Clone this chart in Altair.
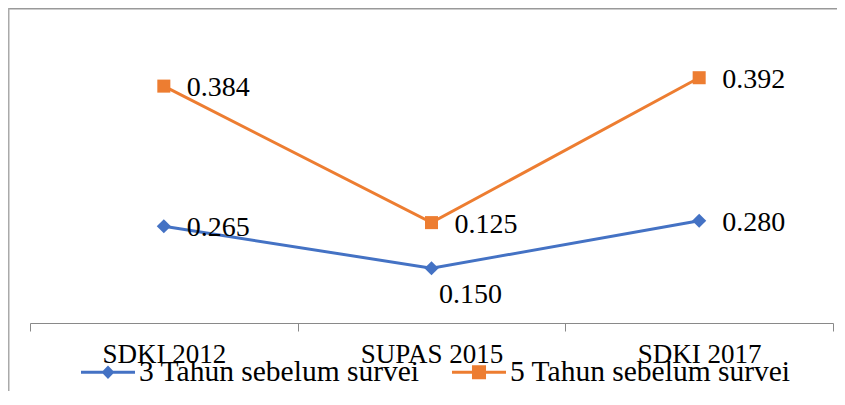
import altair as alt
import pandas as pd

categories = ["SDKI 2012", "SUPAS 2015", "SDKI 2017"]
series = ["3 Tahun sebelum survei", "5 Tahun sebelum survei"]
values_3 = [0.265, 0.150, 0.280]
values_5 = [0.384, 0.125, 0.392]
label_pos_3 = ["right", "below", "right"]
label_pos_5 = ["right", "right", "right"]
colors = ["#4472C4", "#ED7D31"]

rows = []
for i, c in enumerate(categories):
    rows.append({"cat": c, "series": series[0], "value": values_3[i], "order": 0,
                 "label": f"{values_3[i]:.3f}", "pos": label_pos_3[i]})
    rows.append({"cat": c, "series": series[1], "value": values_5[i], "order": 1,
                 "label": f"{values_5[i]:.3f}", "pos": label_pos_5[i]})
df = pd.DataFrame(rows)

FONT = "Liberation Serif"
W, H = 803, 292
PAD = {"left": 22, "top": 23, "right": 4, "bottom": 68}

diamond_path = "M-1,-0.06H1V0.06H-1Z M0,-0.25L0.24,0L0,0.25L-0.24,0Z"
square_path = "M-1,-0.06H1V0.06H-1Z M-0.26,-0.26H0.26V0.26H-0.26Z"

legend = alt.Legend(
    orient="none", legendX=51, legendY=314, direction="horizontal", title=None,
    symbolSize=2916, labelFont=FONT, labelFontSize=29.5, labelColor="#000000",
    labelOffset=4, columnPadding=32, labelLimit=0,
    symbolStrokeWidth=0, symbolOpacity=1,
    symbolType={"expr": "datum.value === '" + series[0] + "' ? '" + diamond_path + "' : '" + square_path + "'"},
    symbolFillColor={"expr": "scale('color', datum.value)"},
)

x_enc = alt.X(
    "cat:N", sort=categories, bandPosition=0.5,
    scale=alt.Scale(type="band", paddingInner=0, paddingOuter=0),
    axis=alt.Axis(title=None, tickBand="extent", labelAngle=0, labelFont=FONT,
                  labelFontSize=27, labelColor="#000000", labelPadding=10,
                  labelBaseline="top", domainColor="#898989", tickColor="#898989",
                  tickSize=8, domainWidth=1, tickWidth=1, grid=False),
)
y_enc = alt.Y("y1:Q", scale=alt.Scale(domain=[0, 0.8], nice=False, zero=True), axis=None)
color_scale = alt.Scale(domain=series, range=colors)

base = alt.Chart(df).transform_stack(
    stack="value", groupby=["cat"], as_=["y0", "y1"], sort=[alt.SortField("order")]
)

lines = base.mark_line(strokeWidth=3).encode(
    x=x_enc, y=y_enc,
    color=alt.Color("series:N", scale=color_scale, legend=legend),
    detail="series:N",
)

points_3 = base.transform_filter(alt.datum.order == 0).mark_point(
    filled=True, size=200, opacity=1, shape="diamond"
).encode(x=x_enc, y=y_enc, color=alt.Color("series:N", scale=color_scale, legend=legend))

points_5 = base.transform_filter(alt.datum.order == 1).mark_point(
    filled=True, size=170, opacity=1, shape="square"
).encode(x=x_enc, y=y_enc, color=alt.Color("series:N", scale=color_scale, legend=legend))

labels_right = base.transform_filter(alt.datum.pos == "right").mark_text(
    align="left", baseline="middle", dx=23, dy=2, font=FONT, fontSize=28, color="#000000"
).encode(x=x_enc, y=y_enc, text="label:N")

labels_below = base.transform_filter(alt.datum.pos == "below").mark_text(
    align="center", baseline="middle", dx=39, dy=27, font=FONT, fontSize=28, color="#000000"
).encode(x=x_enc, y=y_enc, text="label:N")

# chart frame: top and left edges only
border_df = pd.DataFrame({"a": [0]})
frame_top = alt.Chart(border_df).mark_rule(color="#999999", strokeWidth=1.5).encode(
    x=alt.value(-PAD["left"]), x2=alt.value(W + PAD["right"]),
    y=alt.value(-PAD["top"] + 0.75),
)
frame_left = alt.Chart(border_df).mark_rule(color="#aaaaaa", strokeWidth=1.5).encode(
    x=alt.value(-PAD["left"] + 0.75),
    y=alt.value(-PAD["top"]), y2=alt.value(H + PAD["bottom"]),
)

chart = alt.layer(frame_top, frame_left, lines, points_3, points_5, labels_right, labels_below).properties(
    width=W, height=H, padding=PAD, autosize=alt.AutoSizeParams(type="none"),
    background="white",
).configure_view(stroke=None)

chart.save("out.html", embed_options={"renderer": "svg", "actions": False})
